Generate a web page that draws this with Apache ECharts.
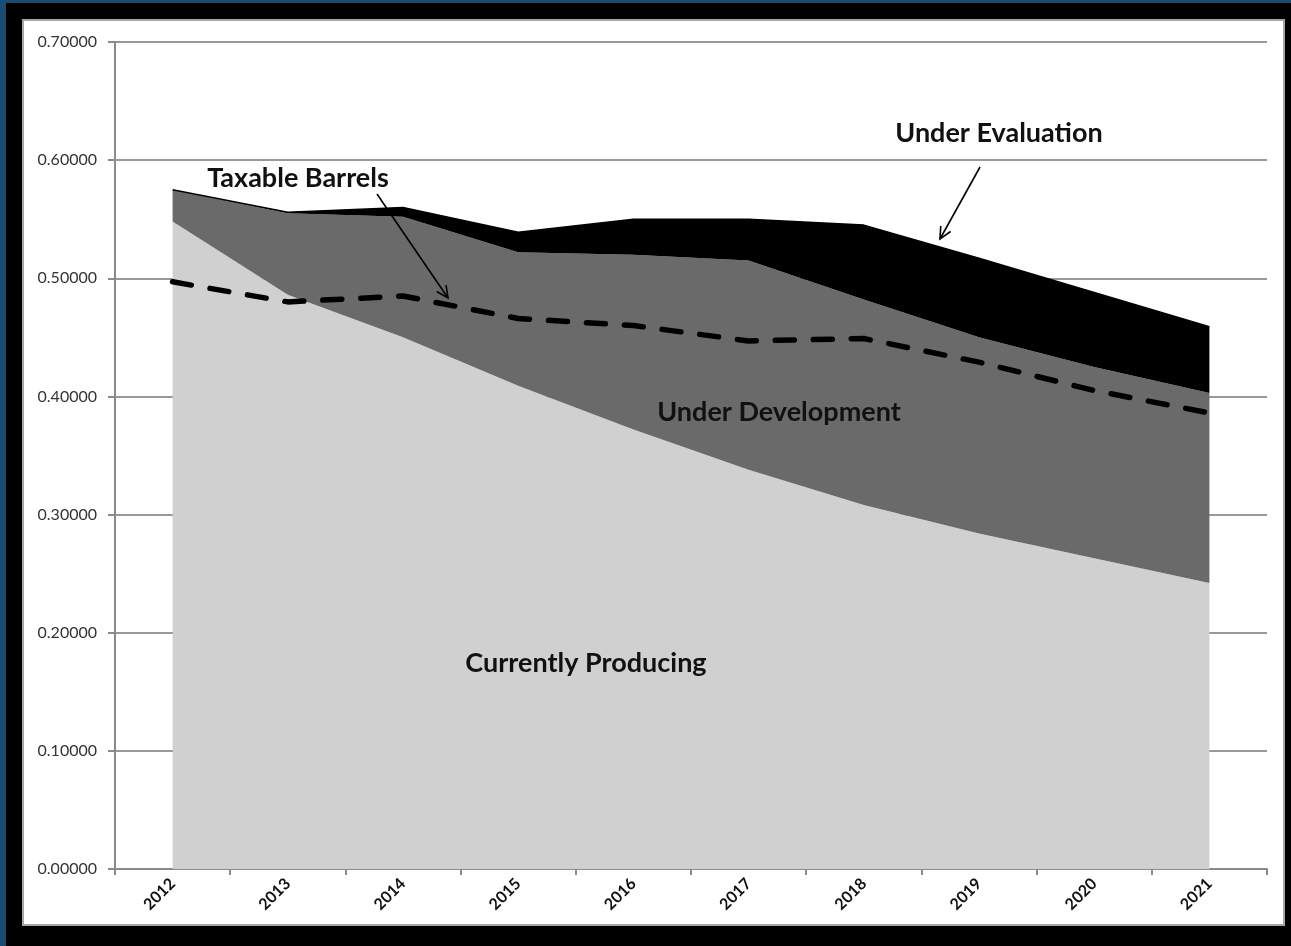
<!DOCTYPE html>
<html>
<head>
<meta charset="utf-8">
<script src="https://cdn.jsdelivr.net/npm/echarts@6/dist/echarts.min.js"></script>
<style>
  html, body { margin: 0; padding: 0; width: 1291px; height: 946px; overflow: hidden; background: #1b4b70; }
  #frame { position: absolute; left: 6px; top: 3px; width: 1285px; height: 943px; background: #000; }
  #panel { position: absolute; left: 22px; top: 19px; width: 1263px; height: 907px; background: #fff; border: 2px solid #a6a6a6; box-sizing: border-box; }
  #chart { position: absolute; left: 0; top: 0; width: 1291px; height: 946px; }
</style>
</head>
<body>
<div id="frame"></div>
<div id="panel"></div>
<div id="chart"></div>
<script>
// ---- data ----
const years = ['2012','2013','2014','2015','2016','2017','2018','2019','2020','2021'];
const currentlyProducing = [0.548, 0.486, 0.450, 0.409, 0.372, 0.338, 0.308, 0.284, 0.263, 0.242];
const underDevelopment   = [0.027, 0.069, 0.102, 0.113, 0.148, 0.177, 0.174, 0.166, 0.162, 0.161];
const underEvaluation    = [0.000, 0.001, 0.008, 0.017, 0.030, 0.035, 0.063, 0.067, 0.063, 0.056];
const taxableBarrels     = [0.497, 0.480, 0.485, 0.466, 0.460, 0.447, 0.449, 0.429, 0.405, 0.386];
const yTicks = { min: 0, max: 0.7, interval: 0.1 };

const FONT = 'Lato, "Open Sans", sans-serif';
const chart = echarts.init(document.getElementById('chart'), null, { renderer: 'canvas' });

function arrow(x1, y1, x2, y2) {
  const ang = Math.atan2(y2 - y1, x2 - x1);
  const L = 13, a = 0.45;
  const p1 = [x2 - L * Math.cos(ang - a), y2 - L * Math.sin(ang - a)];
  const p2 = [x2 - L * Math.cos(ang + a), y2 - L * Math.sin(ang + a)];
  return [
    { type: 'line', z: 100, shape: { x1, y1, x2, y2 }, style: { stroke: '#000', lineWidth: 1.6 } },
    { type: 'polyline', z: 100, shape: { points: [p1, [x2, y2], p2] }, style: { stroke: '#000', lineWidth: 1.6, fill: null } }
  ];
}
function label(text, x, y) {
  return { type: 'text', z: 100, x, y, style: { text, fill: '#111', font: 'bold 27px ' + FONT, textAlign: 'center', textVerticalAlign: 'middle' } };
}

chart.setOption({
  animation: false,
  backgroundColor: 'transparent',
  grid: { left: 115, right: 24, top: 42, bottom: 77, containLabel: false },
  xAxis: {
    type: 'category',
    data: years,
    boundaryGap: true,
    axisLine: { lineStyle: { color: '#8a8a8a', width: 2 } },
    axisTick: { show: true, length: 6, lineStyle: { color: '#8a8a8a', width: 2 } },
    axisLabel: { rotate: 45, margin: 12, color: '#111', fontWeight: 'bold', fontSize: 16, fontFamily: FONT },
    splitLine: { show: false }
  },
  yAxis: {
    type: 'value',
    min: yTicks.min, max: yTicks.max, interval: yTicks.interval,
    axisLine: { show: true, lineStyle: { color: '#8a8a8a', width: 2 } },
    axisTick: { show: true, length: 7, lineStyle: { color: '#8a8a8a', width: 2 } },
    axisLabel: { margin: 18, color: '#333', fontSize: 16, fontFamily: FONT, formatter: v => v.toFixed(5) },
    splitLine: { show: true, lineStyle: { color: '#999', width: 2 } }
  },
  series: [
    { name: 'Currently Producing', type: 'line', stack: 'total', data: currentlyProducing, symbol: 'none',
      lineStyle: { width: 0 }, areaStyle: { color: '#d0d0d0', opacity: 1 }, z: 2 },
    { name: 'Under Development', type: 'line', stack: 'total', data: underDevelopment, symbol: 'none',
      lineStyle: { width: 0 }, areaStyle: { color: '#6a6a6a', opacity: 1 }, z: 2 },
    { name: 'Under Evaluation', type: 'line', stack: 'total', data: underEvaluation, symbol: 'none',
      lineStyle: { width: 1.5, color: '#000' }, areaStyle: { color: '#000', opacity: 1 }, z: 2 },
    { name: 'Taxable Barrels', type: 'line', data: taxableBarrels, symbol: 'none', z: 5,
      lineStyle: { color: '#000', width: 5.5, type: [19, 19], cap: 'round' } }
  ],
  graphic: [
    label('Under Evaluation', 999, 133),
    label('Taxable Barrels', 298, 178),
    label('Under Development', 779, 412),
    label('Currently Producing', 586, 663),
    ...arrow(980, 167, 940, 239),
    ...arrow(377, 194, 448, 298)
  ]
});
</script>
</body>
</html>
